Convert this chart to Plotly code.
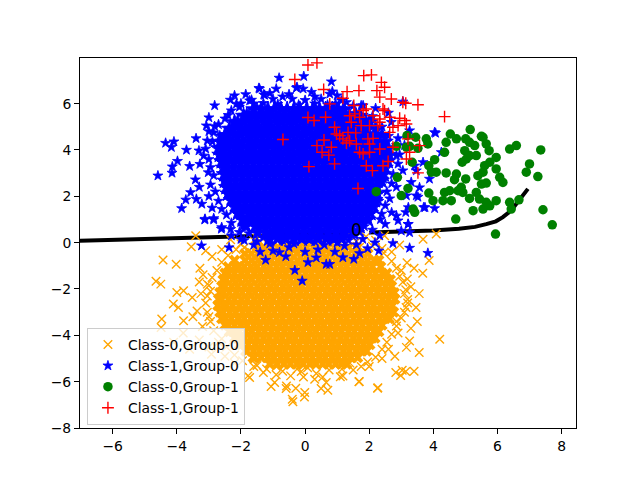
import plotly.graph_objects as go

# ---------------- data ----------------
boundary_x = [-7.03, -5.0, -3.0, -1.83, 0.0, 1.3, None, 2.0, 3.0, 4.0, 4.8, 5.3, 5.65, 5.95, 6.17, 6.35, 6.52, 6.67, 6.8, 6.95]
boundary_y = [0.08, 0.15, 0.23, 0.27, 0.34, 0.39, None, 0.44, 0.48, 0.52, 0.6, 0.68, 0.8, 0.92, 1.1, 1.3, 1.55, 1.8, 2.05, 2.32]
contour_label_x = [1.6]
contour_label_y = [0.47]
contour_label_text = ["0"]

# Class-0, Group-0 : dense core rows (y of row, x positions) and scattered points
orange_core_y = [-0.2, -0.48, -0.76, -1.04, -1.32, -1.6, -1.88, -2.16, -2.44, -2.72, -3.0, -3.28, -3.56, -3.84, -4.12, -4.4, -4.68, -4.96, -5.24]
orange_core_x = [
    [-1.5, -1.28, -1.05, -0.84, -0.62, -0.4, -0.18, 0.05, 0.26, 0.48, 0.7, 0.92, 1.15, 1.36, 1.6],
    [-1.88, -1.67, -1.46, -1.26, -1.05, -0.86, -0.65, -0.46, -0.25, -0.04, 0.15, 0.36, 0.55, 0.76, 0.95, 1.16, 1.35, 1.56, 1.75, 1.96],
    [-2.2, -1.87, -1.66, -1.46, -1.25, -1.06, -0.85, -0.66, -0.45, -0.24, -0.05, 0.16, 0.35, 0.56, 0.75, 0.96, 1.15, 1.36, 1.55, 1.76, 1.95, 2.16, 2.3],
    [-2.4, -2.2, -2.09, -1.9, -1.69, -1.5, -1.29, -1.1, -0.89, -0.7, -0.49, -0.3, -0.09, 0.1, 0.31, 0.5, 0.71, 0.9, 1.11, 1.3, 1.51, 1.7, 1.91, 2.1, 2.36],
    [-2.5, -2.39, -2.2, -1.99, -1.8, -1.59, -1.4, -1.19, -1.0, -0.79, -0.6, -0.39, -0.2, 0.01, 0.2, 0.41, 0.6, 0.81, 1.0, 1.21, 1.4, 1.61, 1.8, 2.01, 2.2, 2.41, 2.55],
    [-2.56, -2.46, -2.25, -2.06, -1.85, -1.66, -1.45, -1.26, -1.05, -0.86, -0.65, -0.46, -0.25, -0.06, 0.15, 0.34, 0.55, 0.74, 0.95, 1.14, 1.35, 1.54, 1.75, 1.94, 2.15, 2.34, 2.55, 2.66],
    [-2.6, -2.5, -2.29, -2.1, -1.89, -1.7, -1.49, -1.3, -1.09, -0.9, -0.69, -0.5, -0.29, -0.1, 0.11, 0.3, 0.51, 0.7, 0.91, 1.1, 1.31, 1.5, 1.71, 1.9, 2.11, 2.3, 2.51, 2.7],
    [-2.66, -2.55, -2.36, -2.15, -1.96, -1.75, -1.56, -1.35, -1.16, -0.95, -0.76, -0.55, -0.36, -0.15, 0.04, 0.25, 0.44, 0.65, 0.84, 1.05, 1.24, 1.45, 1.64, 1.85, 2.04, 2.25, 2.44, 2.65, 2.78],
    [-2.7, -2.6, -2.39, -2.2, -1.99, -1.8, -1.59, -1.4, -1.19, -1.0, -0.79, -0.6, -0.39, -0.2, 0.01, 0.2, 0.41, 0.6, 0.81, 1.0, 1.21, 1.4, 1.61, 1.8, 2.01, 2.2, 2.41, 2.6, 2.8],
    [-2.72, -2.55, -2.45, -2.26, -2.05, -1.86, -1.65, -1.46, -1.25, -1.06, -0.85, -0.66, -0.45, -0.26, -0.05, 0.14, 0.35, 0.54, 0.75, 0.94, 1.15, 1.34, 1.55, 1.74, 1.95, 2.14, 2.35, 2.54, 2.72],
    [-2.66, -2.56, -2.35, -2.16, -1.95, -1.76, -1.55, -1.36, -1.15, -0.96, -0.75, -0.56, -0.35, -0.16, 0.05, 0.24, 0.45, 0.64, 0.85, 1.04, 1.25, 1.44, 1.65, 1.84, 2.05, 2.24, 2.45, 2.64, 2.76],
    [-2.6, -2.49, -2.3, -2.09, -1.9, -1.69, -1.5, -1.29, -1.1, -0.89, -0.7, -0.49, -0.3, -0.09, 0.1, 0.31, 0.5, 0.71, 0.9, 1.11, 1.3, 1.51, 1.7, 1.91, 2.1, 2.31, 2.5, 2.62],
    [-2.5, -2.4, -2.2, -2.0, -1.81, -1.6, -1.41, -1.2, -1.01, -0.8, -0.61, -0.4, -0.21, 0.0, 0.19, 0.4, 0.59, 0.8, 0.99, 1.2, 1.39, 1.6, 1.79, 2.0, 2.19, 2.4],
    [-2.36, -2.25, -2.06, -1.85, -1.66, -1.45, -1.26, -1.05, -0.86, -0.65, -0.46, -0.25, -0.06, 0.15, 0.34, 0.55, 0.74, 0.95, 1.14, 1.35, 1.54, 1.75, 1.94, 2.15, 2.3],
    [-2.2, -2.1, -1.9, -1.7, -1.51, -1.3, -1.11, -0.9, -0.71, -0.5, -0.31, -0.1, 0.09, 0.3, 0.49, 0.7, 0.89, 1.1, 1.29, 1.5, 1.69, 1.9, 2.09, 2.18],
    [-2.05, -1.98, -1.77, -1.56, -1.37, -1.16, -0.97, -0.76, -0.57, -0.36, -0.17, 0.04, 0.23, 0.44, 0.63, 0.84, 1.03, 1.24, 1.43, 1.64, 1.83, 2.02],
    [-1.85, -1.82, -1.61, -1.42, -1.21, -1.02, -0.81, -0.62, -0.41, -0.22, -0.01, 0.18, 0.39, 0.58, 0.79, 0.98, 1.19, 1.38, 1.59, 1.78, 1.92],
    [-1.62, -1.58, -1.37, -1.16, -0.97, -0.76, -0.57, -0.36, -0.17, 0.04, 0.23, 0.44, 0.63, 0.84, 1.03, 1.24, 1.43, 1.64],
    [-1.1, -0.87, -0.66, -0.46, -0.25, -0.06, 0.15, 0.34, 0.55, 0.74, 0.95, 1.14, 1.3],
]
orange_scatter = [
    (-4.43, -0.75), (-4.02, -0.93), (-4.65, -1.67), (-4.5, -1.79), (-3.55, -0.18), (-3.41, 0.3), (-3.28, -1.1),
    (-3.18, -1.39), (-4.0, -2.15), (-3.79, -2.08), (-4.11, -2.65), (-3.95, -2.8), (-4.47, -3.3), (-4.49, -3.66),
    (-3.79, -3.37), (-3.52, -2.37), (-3.37, -2.95), (-3.2, -3.62), (-3.05, -1.79), (-2.32, 0.13), (-2.6, -0.3),
    (-2.9, -0.6), (-3.1, -0.35), (-2.95, -2.1), (-3.0, -3.2), (-3.3, -4.2), (-2.92, -4.82), (-3.6, -4.6),
    (-3.0, -4.5), (-2.7, -4.3), (-2.5, -4.9), (-2.2, -5.2), (-4.1, -4.3), (-3.8, -3.9),
    (-1.78, -5.75), (-1.06, -6.21), (-0.59, -6.3), (-0.38, -6.87), (-0.02, -6.66), (0.08, -5.4), (0.5, -6.3),
    (-0.95, -6.04), (-0.58, -6.19), (-0.4, -6.76), (-0.29, -6.28), (-0.01, -6.47), (0.66, -6.04), (0.71, -6.37),
    (1.1, -5.79), (1.69, -5.99), (2.26, -6.28), (2.83, -5.6), (3.14, -5.56), (-1.73, -5.82), (-1.5, -5.3),
    (-0.12, -5.56), (1.68, -6.0), (1.18, -5.76), (2.27, -6.26), (-1.3, -5.6), (-0.9, -5.7), (0.3, -5.9),
    (1.5, -5.5), (2.0, -5.35), (2.4, -5.0),
    (3.87, -0.77), (3.67, -1.32), (3.18, -0.87), (3.56, -2.2), (3.46, -2.8), (3.2, -2.6), (3.5, -3.4),
    (4.2, -4.17), (3.26, -4.24), (3.16, -4.52), (3.56, -4.74), (3.4, -5.55), (3.03, -5.51), (2.98, -5.73),
    (2.85, -3.4), (3.19, -1.57), (3.14, -2.03), (2.48, 0.3), (2.95, -0.1), (3.68, 0.15), (4.09, 0.37),
    (2.7, -0.4), (3.0, -1.2), (3.3, -1.9), (2.9, -3.9), (2.6, -4.6), (2.8, -4.9), (3.1, -3.0), (2.2, 0.1),
    (1.9, 0.25), (-0.5, 0.25), (0.3, 0.35), (0.9, 0.2), (-1.5, 0.2), (1.4, 0.35),
    (-2.0, -0.05), (-1.6, 0.1), (-1.2, 0.0), (-0.85, 0.15), (-0.3, 0.05), (0.15, 0.1), (0.6, 0.0), (1.0, 0.15),
    (1.6, 0.05), (2.1, -0.15), (2.4, -0.25), (-1.9, -0.22), (-1.3, -0.3), (-0.7, -0.18), (-0.1, -0.25),
    (0.5, -0.2), (1.1, -0.28), (1.7, -0.2), (-1.75, -0.35), (1.85, -0.4), (-2.15, -0.3),
    (-2.4, -0.55), (-2.6, -0.85), (-2.75, -1.2), (-2.9, -1.5), (-3.0, -1.85), (-3.05, -2.3), (-3.1, -2.6),
    (-3.05, -3.0), (-2.95, -3.4), (-2.85, -3.8), (-2.6, -4.15), (-2.45, -4.5), (-2.2, -4.85), (-1.95, -5.1),
    (-1.6, -5.35), (-3.3, -1.7), (-3.5, -3.2), (-3.25, -2.2),
    (2.45, -0.45), (2.7, -0.8), (2.85, -1.1), (2.95, -1.45), (3.05, -1.7), (3.1, -2.2), (3.2, -2.45),
    (3.15, -2.8), (3.0, -3.25), (2.85, -3.6), (2.7, -3.95), (2.55, -4.3), (2.4, -4.6), (2.2, -4.95),
    (1.95, -5.15), (1.75, -5.35), (3.3, -3.7), (3.4, -1.1),
    (-1.2, -5.45), (-0.9, -5.35), (-0.45, -5.75), (-0.05, -5.8), (0.35, -5.65), (0.75, -5.5), (1.15, -5.45),
    (1.4, -5.2), (-0.7, -5.55), (0.55, -5.8), (-0.25, -5.45),
]

# Class-1, Group-0
blue_core_y = [0.17, 0.43, 0.71, 0.99, 1.27, 1.55, 1.83, 2.11, 2.39, 2.67, 2.95, 3.23, 3.51, 3.79, 4.07, 4.35, 4.63, 4.91, 5.19, 5.47, 5.75]
blue_core_x = [
    [-1.12, -0.86, -0.6, -0.36, -0.1, 0.14, 0.4, 0.66, 0.9, 1.14],
    [-1.48, -1.22, -0.98, -0.74, -0.5, -0.26, -0.02, 0.24, 0.48, 0.72, 0.98, 1.24, 1.5],
    [-1.85, -1.55, -1.34, -1.15, -0.94, -0.75, -0.54, -0.36, -0.14, 0.05, 0.26, 0.45, 0.66, 0.85, 1.06, 1.25, 1.46, 1.7],
    [-1.95, -1.76, -1.65, -1.46, -1.24, -1.05, -0.84, -0.66, -0.44, -0.25, -0.04, 0.15, 0.36, 0.55, 0.76, 0.95, 1.16, 1.35, 1.56, 1.75, 1.96],
    [-2.1, -1.98, -1.77, -1.56, -1.37, -1.16, -0.95, -0.76, -0.55, -0.34, -0.15, 0.06, 0.25, 0.46, 0.65, 0.86, 1.05, 1.26, 1.45, 1.66, 1.85, 2.04],
    [-2.2, -2.08, -1.87, -1.66, -1.46, -1.25, -1.06, -0.85, -0.66, -0.45, -0.24, -0.05, 0.16, 0.35, 0.56, 0.75, 0.96, 1.15, 1.36, 1.55, 1.76, 1.95, 2.14],
    [-2.3, -2.18, -1.97, -1.76, -1.56, -1.35, -1.15, -0.96, -0.75, -0.56, -0.35, -0.14, 0.05, 0.26, 0.45, 0.66, 0.85, 1.06, 1.25, 1.46, 1.65, 1.86, 2.06, 2.18],
    [-2.4, -2.28, -2.07, -1.86, -1.66, -1.45, -1.26, -1.05, -0.86, -0.65, -0.44, -0.25, -0.04, 0.15, 0.36, 0.55, 0.76, 0.95, 1.16, 1.35, 1.56, 1.75, 1.96, 2.15, 2.25],
    [-2.45, -2.36, -2.15, -1.96, -1.75, -1.56, -1.35, -1.16, -0.95, -0.76, -0.55, -0.36, -0.15, 0.06, 0.25, 0.46, 0.65, 0.86, 1.05, 1.26, 1.45, 1.66, 1.85, 2.06, 2.25],
    [-2.5, -2.38, -2.17, -1.96, -1.76, -1.55, -1.36, -1.15, -0.96, -0.75, -0.54, -0.35, -0.14, 0.05, 0.26, 0.45, 0.66, 0.85, 1.06, 1.25, 1.46, 1.65, 1.86, 2.05, 2.26, 2.38],
    [-2.52, -2.45, -2.25, -2.06, -1.85, -1.66, -1.45, -1.26, -1.05, -0.86, -0.65, -0.46, -0.25, -0.06, 0.15, 0.36, 0.55, 0.76, 0.95, 1.16, 1.35, 1.56, 1.75, 1.96, 2.15, 2.36, 2.45],
    [-2.55, -2.44, -2.23, -2.02, -1.83, -1.62, -1.43, -1.22, -1.03, -0.82, -0.63, -0.42, -0.23, -0.02, 0.17, 0.38, 0.57, 0.78, 0.97, 1.18, 1.37, 1.58, 1.77, 1.98, 2.17, 2.38, 2.5],
    [-2.6, -2.51, -2.32, -2.11, -1.92, -1.71, -1.52, -1.31, -1.12, -0.91, -0.72, -0.51, -0.32, -0.11, 0.08, 0.29, 0.48, 0.69, 0.88, 1.09, 1.28, 1.49, 1.68, 1.89, 2.08, 2.29, 2.48, 2.58],
    [-2.66, -2.55, -2.36, -2.15, -1.96, -1.75, -1.56, -1.35, -1.16, -0.95, -0.76, -0.55, -0.36, -0.15, 0.04, 0.25, 0.44, 0.65, 0.84, 1.05, 1.24, 1.45, 1.64, 1.85, 2.04, 2.25, 2.44, 2.62],
    [-2.7, -2.6, -2.4, -2.19, -2.0, -1.79, -1.6, -1.39, -1.2, -0.99, -0.8, -0.59, -0.4, -0.19, 0.0, 0.21, 0.4, 0.61, 0.8, 1.01, 1.2, 1.41, 1.6, 1.81, 2.0, 2.21, 2.4, 2.6],
    [-2.64, -2.54, -2.35, -2.14, -1.95, -1.74, -1.55, -1.34, -1.15, -0.94, -0.75, -0.54, -0.35, -0.14, 0.05, 0.26, 0.45, 0.66, 0.85, 1.06, 1.25, 1.46, 1.65, 1.86, 2.05, 2.26, 2.5],
    [-2.5, -2.4, -2.2, -2.01, -1.8, -1.61, -1.4, -1.21, -1.0, -0.81, -0.6, -0.41, -0.2, -0.01, 0.2, 0.39, 0.6, 0.79, 1.0, 1.19, 1.4, 1.59, 1.8, 1.99, 2.2, 2.4],
    [-2.36, -2.26, -2.05, -1.86, -1.65, -1.46, -1.25, -1.06, -0.85, -0.66, -0.45, -0.26, -0.05, 0.14, 0.35, 0.54, 0.75, 0.94, 1.15, 1.34, 1.55, 1.74, 1.95, 2.2],
    [-2.2, -2.1, -1.9, -1.7, -1.51, -1.3, -1.11, -0.9, -0.71, -0.5, -0.31, -0.1, 0.09, 0.3, 0.49, 0.7, 0.89, 1.1, 1.29, 1.5, 1.69, 1.9, 2.02],
    [-1.92, -1.82, -1.61, -1.42, -1.21, -1.02, -0.81, -0.62, -0.41, -0.22, -0.01, 0.18, 0.39, 0.58, 0.79, 0.98, 1.19, 1.38, 1.59, 1.72],
    [-1.6, -1.37, -1.16, -0.96, -0.75, -0.56, -0.35, -0.16, 0.05, 0.24, 0.45, 0.64, 0.85, 1.04, 1.2],
]
blue_scatter = [
    (-0.81, 7.11), (-0.04, 7.18), (0.82, 6.95), (-1.44, 6.67), (-0.9, 6.64), (-1.29, 6.39), (-0.27, 6.68),
    (-0.06, 6.64), (-2.82, 5.92), (-2.33, 6.16), (-1.73, 6.13), (-3.08, 5.05), (0.85, 6.52), (1.29, 6.06),
    (1.75, 5.92), (4.04, 4.76), (-1.42, 6.64), (-1.26, 6.37), (-0.25, 6.71), (-2.14, 5.99), (-1.67, 6.16),
    (-2.82, 5.02), (-4.35, 4.3), (-4.09, 4.36), (-4.17, 4.12), (-3.98, 3.52), (-4.14, 3.28), (-4.15, 3.01),
    (-4.59, 2.89), (-3.31, 3.97), (-3.16, 3.75), (-3.42, 2.72), (-3.02, 3.03), (-3.57, 2.17), (-3.72, 1.85),
    (-3.39, 1.88), (-3.85, 1.48), (-3.22, 1.67), (-3.12, 1.02), (-2.85, 1.05), (-2.6, 0.66), (-2.32, 0.58),
    (-2.89, 4.36), (-2.66, 4.62), (-3.28, 3.39),
    (-3.23, -0.13), (-2.37, -0.21), (-1.23, -0.75), (-1.0, -0.35), (-0.8, -0.42), (-0.32, -1.19), (-0.09, -1.65),
    (0.09, -0.85), (0.66, -0.93), (-3.13, 0.99), (-2.85, 0.99), (-2.61, 0.59), (3.83, -0.45), (3.26, -0.23),
    (2.74, -0.03), (2.18, 0.0), (1.6, -0.09), (1.52, -0.71), (1.18, -0.64), (0.93, -0.4), (0.77, -0.93),
    (1.23, -0.14), (1.7, -0.46), (-1.6, -0.1), (-0.5, -0.2), (0.4, -0.3), (-2.0, 0.15),
    (4.07, 4.73), (4.25, 3.9), (3.68, 3.47), (3.47, 3.11), (3.31, 2.61), (2.85, 2.4), (2.64, 1.9), (3.16, 2.03),
    (3.7, 1.52), (4.04, 1.48), (3.52, 1.97), (3.14, 1.31), (2.85, 1.16), (3.21, 0.8), (3.0, 0.51), (2.33, 0.3),
    (3.05, 6.08), (0.77, 6.42), (1.13, 6.13), (1.81, 5.92), (2.69, 5.2), (3.26, 4.84), (3.42, 3.32), (3.88, 2.75),
    (2.85, 3.76), (3.05, 3.11), (3.57, 2.38), (3.47, 2.03), (3.22, 1.52), (3.74, 1.52), (3.22, 0.8), (3.26, 0.44),
    (2.5, 0.8), (2.39, 1.24), (2.9, 4.5), (3.1, 4.2), (2.6, 5.6), (2.2, 5.8), (-3.0, 4.8), (-3.4, 4.5),
    (-3.6, 3.3), (-3.3, 2.4), (-3.0, 2.0), (-2.9, 1.5), (-2.4, 5.5), (-2.0, 6.0), (-0.5, 6.4), (0.3, 6.3),
    (-3.7, 4.0), (-3.0, 5.4),
    (-2.05, 0.45), (-2.3, 0.85), (-2.45, 1.2), (-2.6, 1.45), (-2.7, 1.8), (-2.8, 2.2), (-2.95, 2.5),
    (-2.85, 2.9), (-2.95, 3.25), (-3.0, 3.6), (-3.1, 4.05), (-3.05, 4.4), (-2.85, 4.75), (-2.7, 5.1),
    (-2.5, 5.35), (-2.3, 5.7), (-2.05, 5.85), (-1.6, 6.0), (-2.2, 6.35), (-1.85, 6.4),
    (-1.0, 6.2), (-0.7, 6.3), (-0.4, 6.2), (0.0, 6.15), (0.5, 6.2), (0.95, 6.0), (1.25, 5.75), (1.55, 5.6),
    (1.0, 6.35), (0.2, 6.5), (-1.1, 6.45), (-1.3, 6.02), (-0.85, 5.98), (-0.2, 5.95), (0.3, 6.0), (0.7, 5.95),
    (-1.5, 5.85), (-1.75, 5.6), (1.5, 5.9), (1.75, 5.5), (2.0, 5.3),
    (2.1, 5.45), (2.4, 5.0), (2.6, 4.6), (2.85, 4.2), (2.95, 3.8), (2.9, 3.4), (2.75, 2.95), (2.7, 2.55),
    (2.55, 2.2), (2.5, 1.6), (2.35, 1.0), (2.1, 0.55), (2.7, 1.3), (2.9, 0.95), (2.3, 1.8), (2.45, 2.75),
    (-1.5, 0.05), (-1.1, -0.05), (-0.7, 0.1), (-0.35, -0.05), (0.3, 0.05), (0.6, -0.1), (1.0, 0.0), (1.35, 0.1),
    (1.8, 0.15), (-2.3, 0.3), (-1.9, 0.1), (0.0, -0.4), (-0.6, -0.6), (0.35, -0.65), (-1.4, -0.4), (1.95, -0.25),
    (2.3, -0.35), (-1.3, 0.22), (-0.95, 0.25), (-0.62, 0.18), (-0.25, 0.2), (0.08, 0.15), (0.42, 0.25),
    (0.78, 0.18), (1.12, 0.22), (1.48, 0.3), (1.7, 0.45), (-1.75, 0.4), (-1.95, 0.7), (1.85, 0.7),
]

# Class-0, Group-1
green_points = [
    (5.15, 4.88), (5.5, 4.59), (5.55, 4.55), (4.53, 4.69), (4.72, 4.48), (4.4, 4.33), (4.35, 3.9), (5.01, 4.48),
    (5.13, 4.33), (5.29, 4.19), (3.78, 4.48), (3.83, 4.26), (3.45, 4.55), (3.18, 4.62), (3.26, 4.16), (3.52, 4.07),
    (3.16, 4.12), (2.85, 4.16), (2.88, 2.82), (2.22, 2.2), (3.0, 2.03), (3.21, 2.34), (3.34, 3.47), (3.86, 3.32),
    (3.94, 3.04), (4.09, 3.04), (4.04, 3.58), (4.4, 3.01), (4.72, 2.96), (4.66, 2.72), (5.01, 2.75), (5.03, 3.61),
    (4.9, 3.47), (4.98, 3.97), (5.13, 3.76), (5.34, 3.76), (5.65, 4.26), (5.74, 3.97), (5.96, 3.68), (5.76, 3.47),
    (5.6, 3.32), (5.55, 3.04), (5.39, 2.89), (5.65, 2.57), (5.5, 2.53), (6.07, 2.82), (6.17, 2.6), (5.96, 3.18),
    (6.38, 4.04), (6.59, 4.19), (7.35, 4.0), (7.0, 3.4), (6.9, 3.04), (7.26, 2.85), (6.67, 1.85), (6.38, 1.74),
    (6.43, 1.45), (5.96, 1.81), (5.76, 1.59), (5.65, 1.74), (5.44, 1.88), (5.13, 1.91), (4.92, 2.17), (4.77, 2.24),
    (4.51, 2.24), (4.35, 2.17), (4.56, 1.81), (4.3, 1.81), (3.99, 1.81), (3.86, 2.14), (3.37, 1.45), (3.42, 1.31),
    (4.7, 1.02), (5.24, 1.38), (5.55, 1.45), (7.42, 1.42), (7.71, 0.77), (5.94, 0.37), (5.34, 2.17), (4.87, 2.39),
]

# Class-1, Group-1
red_points = [
    (1.83, 7.21), (2.07, 7.24), (2.38, 6.92), (2.48, 6.71), (2.24, 6.56), (1.68, 6.56), (1.31, 6.52), (1.18, 6.23),
    (2.33, 6.28), (2.69, 6.2), (3.05, 6.06), (3.14, 6.02), (3.52, 5.95), (0.77, 5.99), (1.52, 5.92), (1.91, 5.77),
    (1.81, 5.7), (2.43, 5.77), (2.48, 5.7), (1.55, 5.56), (1.39, 5.48), (1.7, 5.41), (2.12, 5.48), (2.33, 5.34),
    (2.64, 5.41), (2.95, 5.37), (3.11, 5.27), (3.16, 5.12), (2.9, 5.05), (2.74, 4.98), (2.64, 4.76), (2.33, 5.2),
    (2.27, 5.05), (2.01, 5.05), (1.75, 5.05), (1.44, 5.2), (0.92, 4.98), (0.98, 4.69), (1.08, 4.62), (1.34, 4.76),
    (1.58, 4.74), (1.39, 4.4), (1.29, 4.3), (1.96, 4.48), (2.12, 4.5), (2.01, 4.26), (2.33, 4.04), (2.74, 4.12),
    (3.21, 4.48), (3.57, 4.19), (3.26, 3.9), (1.7, 3.9), (1.81, 3.83), (2.01, 3.9), (0.82, 4.12), (0.92, 3.4),
    (1.91, 3.32), (2.43, 3.32), (2.59, 3.5), (3.16, 3.61), (3.52, 3.01), (2.1, 3.11), (1.65, 2.34), (4.35, 5.44),
    (1.18, 4.48), (1.6, 4.26),
    (0.09, 7.67), (0.37, 7.76), (-0.32, 7.04), (0.58, 6.61), (0.09, 5.4), (0.28, 5.27), (0.64, 5.41), (-0.69, 4.45),
    (0.59, 4.43), (0.37, 4.19), (0.53, 3.9), (0.74, 3.78), (0.12, 3.28),
]

x_ticks = [-6, -4, -2, 0, 2, 4, 6, 8]
y_ticks = [-8, -6, -4, -2, 0, 2, 4, 6]


def rows_to_xy(rows_y, rows_x):
    xs, ys = [], []
    for yv, row in zip(rows_y, rows_x):
        xs.extend(row)
        ys.extend([yv] * len(row))
    return xs, ys


orange_core_px, orange_core_py = rows_to_xy(orange_core_y, orange_core_x)
blue_core_px, blue_core_py = rows_to_xy(blue_core_y, blue_core_x)

ORANGE = "#FFA500"
FONT = "DejaVu Sans"

fig = go.Figure()

# decision boundary (drawn below the points)
fig.add_trace(go.Scatter(x=boundary_x, y=boundary_y, mode="lines",
                         line=dict(color="black", width=4), showlegend=False, hoverinfo="skip"))

# Class-0, Group-0
fig.add_trace(go.Scatter(x=orange_core_px, y=orange_core_py, mode="markers", legendgroup="o", showlegend=False,
                         marker=dict(symbol="x", size=10, color=ORANGE, line=dict(width=0))))
fig.add_trace(go.Scatter(x=[p[0] for p in orange_scatter], y=[p[1] for p in orange_scatter], mode="markers",
                         name="Class-0,Group-0", legendgroup="o",
                         marker=dict(symbol="x-thin", size=8.5, color=ORANGE, line=dict(width=1.4, color=ORANGE))))

# Class-1, Group-0
fig.add_trace(go.Scatter(x=blue_core_px, y=blue_core_py, mode="markers", legendgroup="b", showlegend=False,
                         marker=dict(symbol="star", size=12, color="blue", line=dict(width=1, color="blue"))))
fig.add_trace(go.Scatter(x=[p[0] for p in blue_scatter], y=[p[1] for p in blue_scatter], mode="markers",
                         name="Class-1,Group-0", legendgroup="b",
                         marker=dict(symbol="star", size=7.5, color="blue", line=dict(width=0.8, color="blue"))))

# Class-0, Group-1
fig.add_trace(go.Scatter(x=[p[0] for p in green_points], y=[p[1] for p in green_points], mode="markers",
                         name="Class-0,Group-1",
                         marker=dict(symbol="circle", size=9.5, color="green", line=dict(width=0))))

# Class-1, Group-1
fig.add_trace(go.Scatter(x=[p[0] for p in red_points], y=[p[1] for p in red_points], mode="markers",
                         name="Class-1,Group-1",
                         marker=dict(symbol="cross-thin", size=8.5, color="red", line=dict(width=1.4, color="red"))))

# contour label
fig.add_trace(go.Scatter(x=contour_label_x, y=contour_label_y, mode="text", text=contour_label_text,
                         textfont=dict(family=FONT, size=17, color="black"), showlegend=False, hoverinfo="skip"))

axis_common = dict(showline=True, linecolor="black", linewidth=1, mirror=True, ticks="outside", ticklen=5,
                   tickcolor="black", tickwidth=1, showgrid=False, zeroline=False,
                   tickfont=dict(family=FONT, size=13.9, color="black"))

fig.update_layout(
    width=632, height=472,
    margin=dict(l=72, r=64, t=50, b=52.4),
    plot_bgcolor="white", paper_bgcolor="white",
    font=dict(family=FONT, size=13.9, color="black"),
    xaxis=dict(range=[-7.02, 8.45], tickvals=x_ticks, **axis_common),
    yaxis=dict(range=[-8, 7.97], tickvals=y_ticks, **axis_common),
    legend=dict(x=0.014, y=0.008, xanchor="left", yanchor="bottom", bgcolor="rgba(255,255,255,0.8)",
                bordercolor="#cccccc", borderwidth=1, font=dict(family=FONT, size=13.9, color="black"),
                tracegroupgap=0, itemsizing="trace"),
    showlegend=True,
)

fig.write_html("out.html")
